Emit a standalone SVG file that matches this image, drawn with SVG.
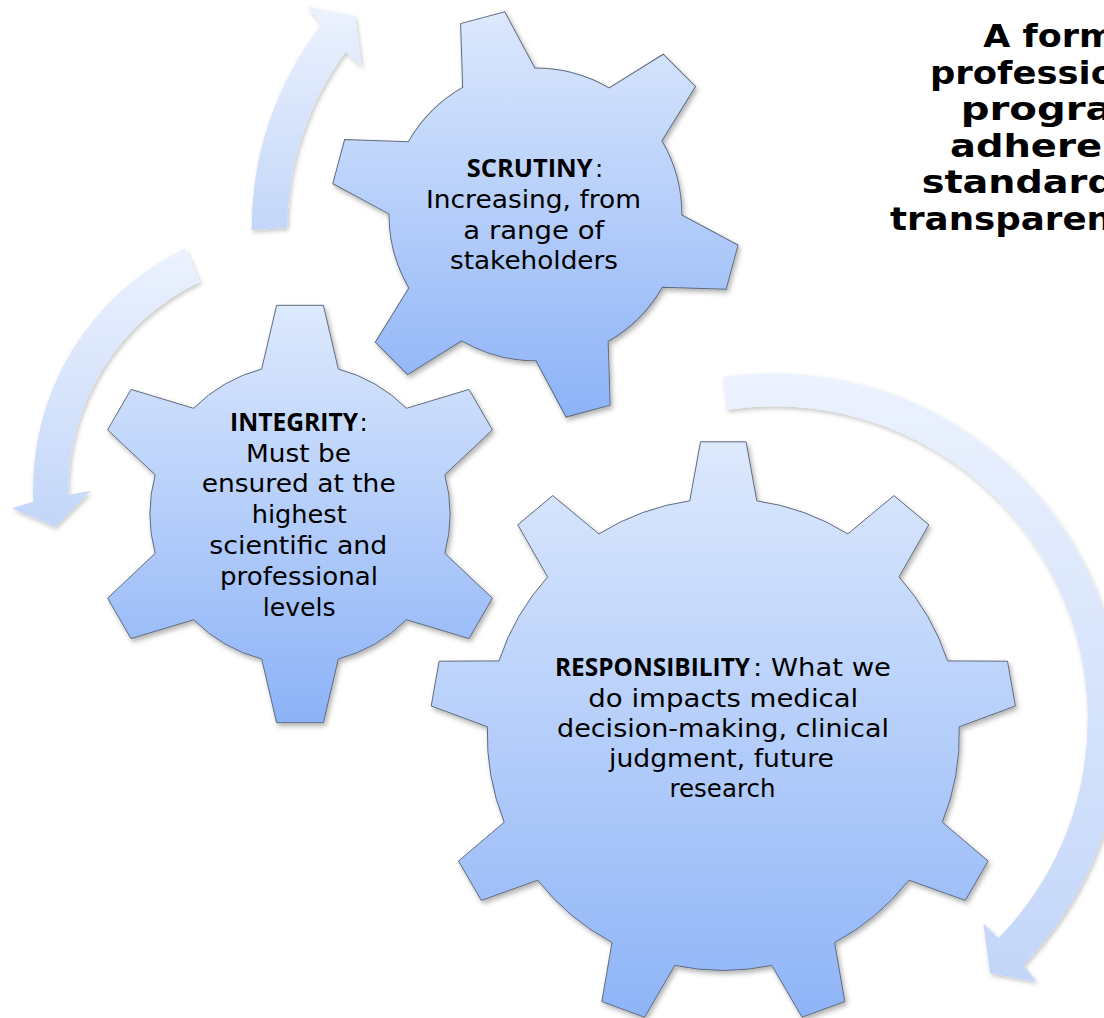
<svg xmlns="http://www.w3.org/2000/svg" width="1104" height="1018" viewBox="0 0 1104 1018">
  <style>
    .b { font-family: 'Open Sans', 'Liberation Sans', sans-serif; font-weight: 700; font-size: 25px; fill: #000; }
    .r { font-family: 'DejaVu Sans', 'Liberation Sans', sans-serif; font-size: 24.5px; fill: #000; }
    .h { font-family: 'DejaVu Sans', 'Liberation Sans', sans-serif; font-weight: 700; font-size: 32px; fill: #000; }
    .gear { stroke: #5f6b7d; stroke-width: 1; }
    .arrow { fill: url(#arrowGrad); }
  </style>
  <defs>
    <filter id="shadow" x="-10%" y="-10%" width="120%" height="120%">
      <feDropShadow dx="2" dy="3" stdDeviation="2.5" flood-color="#000" flood-opacity="0.3"/>
    </filter>
    <filter id="ashadow" x="-10%" y="-10%" width="120%" height="120%">
      <feDropShadow dx="1.5" dy="2.5" stdDeviation="2" flood-color="#000" flood-opacity="0.22"/>
    </filter>
    <linearGradient id="arrowGrad" x1="0" y1="0" x2="0" y2="1">
      <stop offset="0" stop-color="#ecf2fe"/>
      <stop offset="1" stop-color="#c3d6f9"/>
    </linearGradient>
    <linearGradient id="gInt" gradientUnits="userSpaceOnUse" x1="0" y1="-209" x2="0" y2="209">
      <stop offset="0" stop-color="#dde9fd"/>
      <stop offset="1" stop-color="#8cb2f7"/>
    </linearGradient>
    <linearGradient id="gScr" gradientUnits="userSpaceOnUse" x1="54.4" y1="-202.8" x2="-54.4" y2="202.8">
      <stop offset="0" stop-color="#dde9fd"/>
      <stop offset="1" stop-color="#8cb2f7"/>
    </linearGradient>
    <linearGradient id="gRes" gradientUnits="userSpaceOnUse" x1="0" y1="-293" x2="0" y2="293">
      <stop offset="0" stop-color="#dde9fd"/>
      <stop offset="1" stop-color="#8db3f7"/>
    </linearGradient>
    <path id="gear6" d="M -38.3,-145 L -23.4,-208.7 L 23.4,-208.7 L 38.3,-145 A 150 150 0 0 1 106.4,-105.7 L 169,-124.6 L 192.4,-84.1 L 144.8,-39.3 A 150 150 0 0 1 144.8,39.3 L 192.4,84.1 L 169,124.6 L 106.4,105.7 A 150 150 0 0 1 38.3,145 L 23.4,208.7 L -23.4,208.7 L -38.3,145 A 150 150 0 0 1 -106.4,105.7 L -169,124.6 L -192.4,84.1 L -144.8,39.3 A 150 150 0 0 1 -144.8,-39.3 L -192.4,-84.1 L -169,-124.6 L -106.4,-105.7 A 150 150 0 0 1 -38.3,-145 Z"/>
  </defs>

  <rect width="1104" height="1018" fill="#ffffff"/>

  <g id="connectors">
    <g filter="url(#ashadow)">
      <path id="arrow-top" class="arrow" d="M 251.7,230 A 332 332 0 0 1 321.7,24 L 307.3,6.7 L 355,16 L 361.7,66.7 L 345.7,51.7 A 296 296 0 0 0 287.3,227.7 Z"/>
      <path id="arrow-left" class="arrow" d="M 185,248.3 A 267 267 0 0 0 33.3,501.7 L 11.7,508.3 L 55,526.7 L 90.7,490.7 L 68.3,495 A 231 231 0 0 1 200,281.7 Z"/>
      <path id="arrow-right" class="arrow" d="M 723.3,376.7 A 349 349 0 0 1 1023.3,965 L 1036.7,981.7 L 990,973.3 L 983.3,923.3 L 998.3,938.3 A 313 313 0 0 0 726.7,410 Z"/>
    </g>
  </g>

  <g id="gear-scrutiny">
    <g filter="url(#shadow)">
      <use href="#gear6" class="gear" fill="url(#gScr)" transform="translate(535.4 214.4) rotate(-15) scale(0.976)"/>
    </g>
    <text class="b" x="466.7" y="177" textLength="126" lengthAdjust="spacingAndGlyphs">SCRUTINY</text>
    <text class="r" x="595" y="177">:</text>
    <text class="r" x="426" y="208" textLength="215" lengthAdjust="spacingAndGlyphs">Increasing, from</text>
    <text class="r" x="463.3" y="238.5" textLength="141" lengthAdjust="spacingAndGlyphs">a range of</text>
    <text class="r" x="450" y="269" textLength="168" lengthAdjust="spacingAndGlyphs">stakeholders</text>
  </g>

  <g id="gear-integrity">
    <g filter="url(#shadow)">
      <use href="#gear6" class="gear" fill="url(#gInt)" transform="translate(300 514)"/>
    </g>
    <text class="b" x="230" y="430.7" textLength="128" lengthAdjust="spacingAndGlyphs">INTEGRITY</text>
    <text class="r" x="359.5" y="430.7">:</text>
    <text class="r" x="246" y="461.7" textLength="105" lengthAdjust="spacingAndGlyphs">Must be</text>
    <text class="r" x="201.7" y="492.3" textLength="194" lengthAdjust="spacingAndGlyphs">ensured at the</text>
    <text class="r" x="251.7" y="523.3" textLength="95" lengthAdjust="spacingAndGlyphs">highest</text>
    <text class="r" x="209.3" y="554.3" textLength="178" lengthAdjust="spacingAndGlyphs">scientific and</text>
    <text class="r" x="220" y="585" textLength="158" lengthAdjust="spacingAndGlyphs">professional</text>
    <text class="r" x="262.7" y="615.7" textLength="73" lengthAdjust="spacingAndGlyphs">levels</text>
  </g>

  <g id="gear-responsibility">
    <g filter="url(#shadow)">
      <path class="gear" fill="url(#gRes)" transform="translate(723.3 734.4)" d="M -33.5,-233.6 L -22.8,-292.6 L 22.8,-292.6 L 33.5,-233.6 A 236 236 0 0 1 124.5,-200.5 L 170.6,-238.8 L 205.5,-209.6 L 175.7,-157.5 A 236 236 0 0 1 224.3,-73.5 L 284.2,-73.2 L 292.1,-28.4 L 235.9,-7.6 A 236 236 0 0 1 219.1,87.8 L 264.8,126.6 L 242,166 L 185.6,145.8 A 236 236 0 0 1 111.3,208.1 L 121.5,267.2 L 78.7,282.8 L 48.5,231 A 236 236 0 0 1 -48.5,231 L -78.7,282.8 L -121.5,267.2 L -111.3,208.1 A 236 236 0 0 1 -185.6,145.8 L -242,166 L -264.8,126.6 L -219.1,87.8 A 236 236 0 0 1 -235.9,-7.6 L -292.1,-28.4 L -284.2,-73.2 L -224.3,-73.5 A 236 236 0 0 1 -175.7,-157.5 L -205.5,-209.6 L -170.6,-238.8 L -124.5,-200.5 A 236 236 0 0 1 -33.5,-233.6 Z"/>
    </g>
    <text class="b" x="555" y="676" textLength="195" lengthAdjust="spacingAndGlyphs">RESPONSIBILITY</text>
    <text class="r" x="753" y="676" textLength="138" lengthAdjust="spacingAndGlyphs">: What we</text>
    <text class="r" x="588.3" y="706.7" textLength="270" lengthAdjust="spacingAndGlyphs">do impacts medical</text>
    <text class="r" x="557" y="736.7" textLength="332" lengthAdjust="spacingAndGlyphs">decision-making, clinical</text>
    <text class="r" x="609" y="766.7" textLength="225" lengthAdjust="spacingAndGlyphs">judgment, future</text>
    <text class="r" x="669.5" y="796.7" textLength="106" lengthAdjust="spacingAndGlyphs">research</text>
  </g>

  <g id="caption">
    <text class="h" x="983.3" y="47.3" textLength="132" lengthAdjust="spacingAndGlyphs">A form</text>
    <text class="h" x="930" y="83.8" textLength="185" lengthAdjust="spacingAndGlyphs">professio</text>
    <text class="h" x="960.7" y="120.4" textLength="152" lengthAdjust="spacingAndGlyphs">progra</text>
    <text class="h" x="950" y="156.9" textLength="152" lengthAdjust="spacingAndGlyphs">adhere</text>
    <text class="h" x="921.7" y="193.4" textLength="193" lengthAdjust="spacingAndGlyphs">standard</text>
    <text class="h" x="890" y="230" textLength="222" lengthAdjust="spacingAndGlyphs">transparen</text>
  </g>
</svg>
